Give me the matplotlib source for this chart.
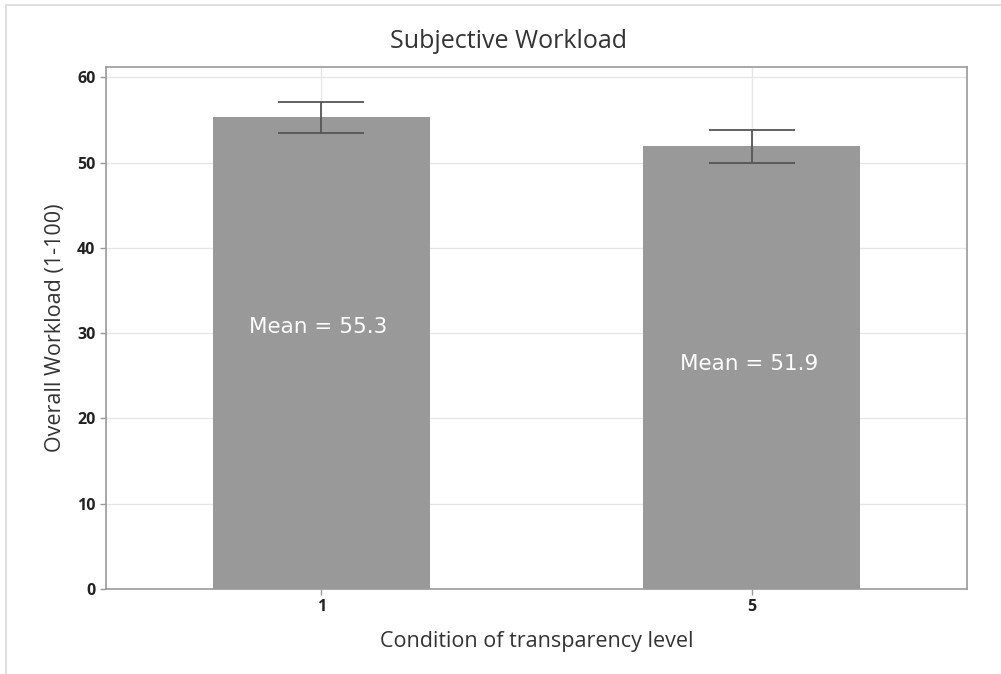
import matplotlib
matplotlib.use('Agg')
import matplotlib.pyplot as plt
import matplotlib.patches as patches
from matplotlib.font_manager import FontProperties
import numpy as np

plt.rcParams['font.family'] = ['Open Sans', 'DejaVu Sans']

conditions = ['1', '5']
means = [55.3, 51.9]
errors = [1.8, 1.9]
mean_labels = ['Mean = 55.3', 'Mean = 51.9']
label_y = [30.7, 26.4]
yticks = [0, 10, 20, 30, 40, 50, 60]

fig = plt.figure(figsize=(10.01, 6.74), dpi=100)
ax = fig.add_axes([0.1059, 0.1261, 0.8601, 0.7745])

# light frame around the figure
fig.add_artist(patches.Rectangle((6 / 1001, -0.1), 1.2, 1.1 - 5 / 674,
                                 transform=fig.transFigure, fill=False,
                                 edgecolor='#d9d9d9', linewidth=1.2))

x = np.arange(len(conditions))
ax.bar(x, means, width=0.503, color='#999999', zorder=2)
ax.errorbar(x, means, yerr=errors, fmt='none', ecolor='#555555',
            elinewidth=1.3, capsize=31, capthick=1.3, zorder=3)

mean_font = FontProperties(family='DejaVu Sans', size=15.5)
for xi, lab, ly in zip(x, mean_labels, label_y):
    ax.text(xi - 0.007, ly, lab, color='white', fontproperties=mean_font,
            ha='center', va='center', zorder=4)

ax.set_xlim(-0.5, 1.5)
ax.set_ylim(0, 61.2)
ax.set_xticks(x)
ax.set_xticklabels(conditions)
ax.set_yticks(yticks)
ax.grid(True, color='#e6e6e6', linewidth=1, zorder=0)
ax.set_axisbelow(True)

for s in ax.spines.values():
    s.set_color('#9a9a9a')
    s.set_linewidth(1.2)
ax.tick_params(colors='#9a9a9a', labelcolor='#222222', length=4, width=1)
for lab in ax.get_xticklabels() + ax.get_yticklabels():
    lab.set_fontsize(11.5)
    lab.set_fontweight('bold')

fig.text(509 / 1001, 1 - 41 / 674, 'Subjective Workload', fontsize=18,
         color='#333333', ha='center', va='center')
ax.set_xlabel('Condition of transparency level', fontsize=15.5, color='#333333', labelpad=11)
ax.set_ylabel('Overall Workload (1-100)', fontsize=15.5, color='#333333', labelpad=8)

fig.savefig('out.png', dpi=100)
